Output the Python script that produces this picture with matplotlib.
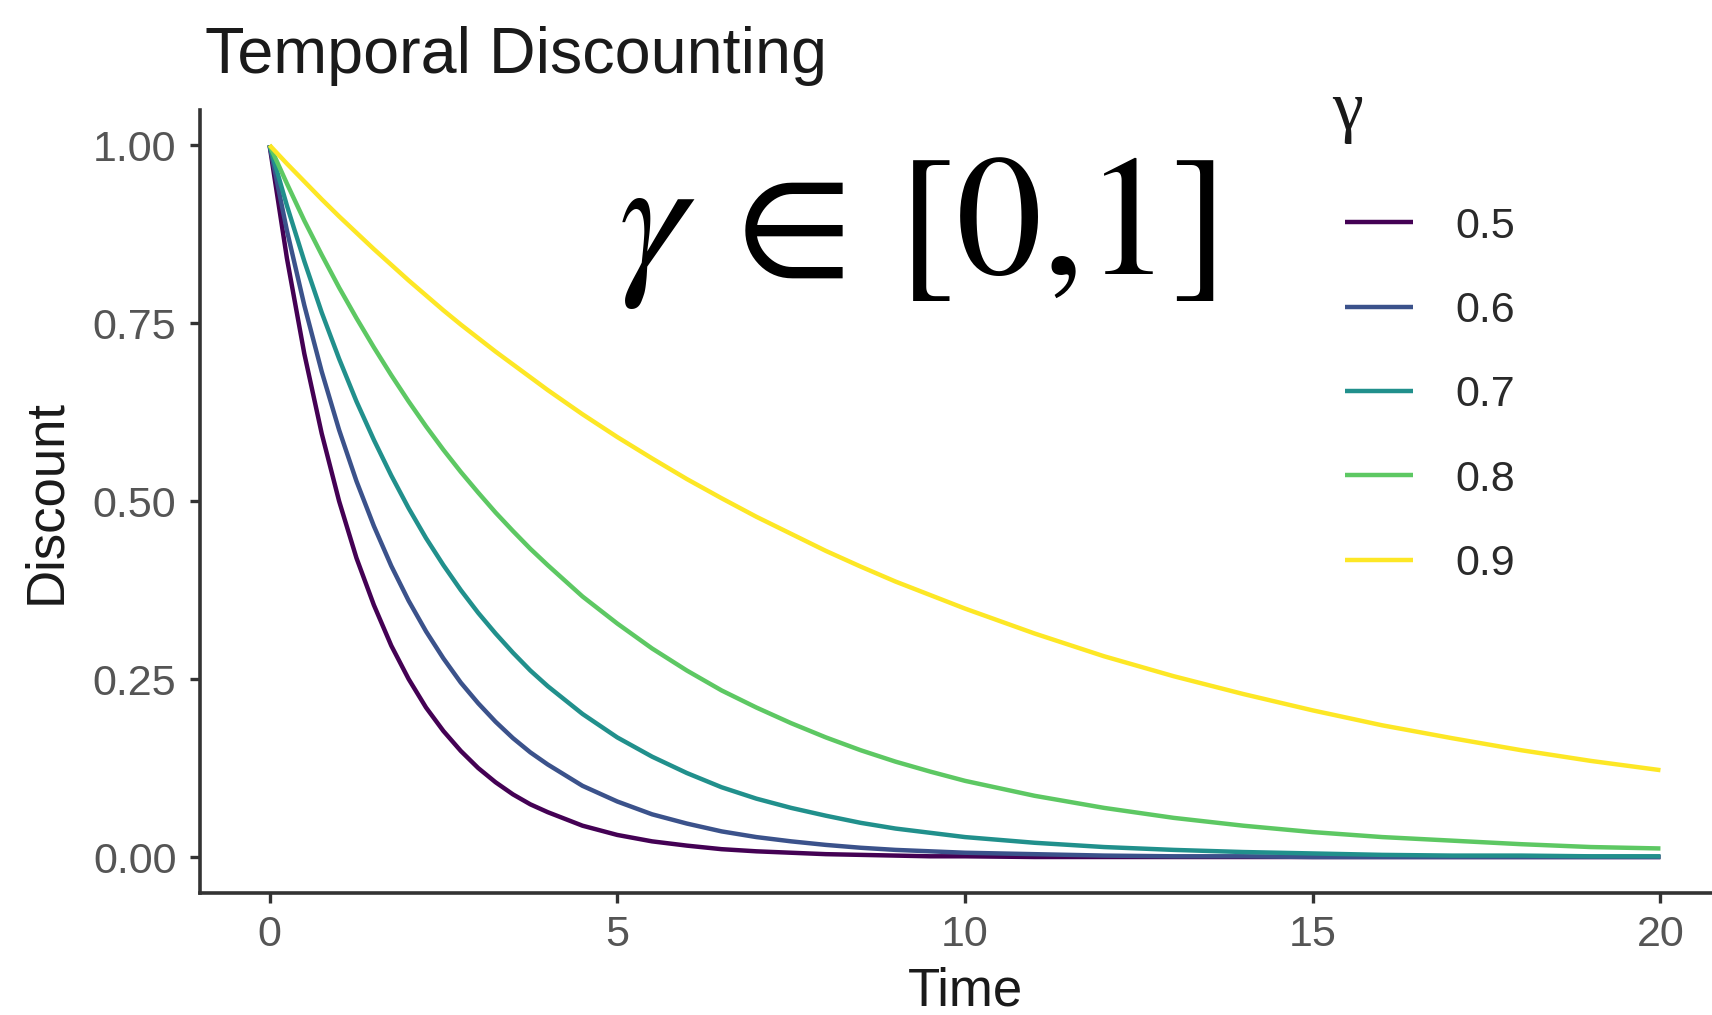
import matplotlib
matplotlib.use("Agg")
import matplotlib.pyplot as plt

# Discount factor gamma**t tabulated over time for each gamma
time = [0, 0.25, 0.5, 0.75, 1, 1.25, 1.5, 1.75, 2, 2.25, 2.5, 2.75, 3, 3.25, 3.5, 3.75, 4,
        4.5, 5, 5.5, 6, 6.5, 7, 7.5, 8, 8.5, 9, 9.5, 10,
        11, 12, 13, 14, 15, 16, 17, 18, 19, 20]

gamma_labels = ["0.5", "0.6", "0.7", "0.8", "0.9"]

discount_05 = [1.000, 0.841, 0.707, 0.595, 0.500, 0.420, 0.354, 0.297, 0.250,
               0.210, 0.177, 0.149, 0.125, 0.105, 0.088, 0.074, 0.063,
               0.044, 0.031, 0.022, 0.016, 0.011, 0.008, 0.006, 0.004,
               0.003, 0.002, 0.001, 0.001,
               0.000, 0.000, 0.000, 0.000, 0.000, 0.000, 0.000, 0.000, 0.000, 0.000]
discount_06 = [1.000, 0.880, 0.775, 0.682, 0.600, 0.528, 0.465, 0.409, 0.360,
               0.317, 0.279, 0.245, 0.216, 0.190, 0.167, 0.147, 0.130,
               0.100, 0.078, 0.060, 0.047, 0.036, 0.028, 0.022, 0.017,
               0.013, 0.010, 0.008, 0.006,
               0.004, 0.002, 0.001, 0.001, 0.000, 0.000, 0.000, 0.000, 0.000, 0.000]
discount_07 = [1.000, 0.915, 0.837, 0.765, 0.700, 0.640, 0.586, 0.536, 0.490,
               0.448, 0.410, 0.375, 0.343, 0.314, 0.287, 0.262, 0.240,
               0.201, 0.168, 0.141, 0.118, 0.098, 0.082, 0.069, 0.058,
               0.048, 0.040, 0.034, 0.028,
               0.020, 0.014, 0.010, 0.007, 0.005, 0.003, 0.002, 0.002, 0.001, 0.001]
discount_08 = [1.000, 0.946, 0.894, 0.846, 0.800, 0.757, 0.716, 0.677, 0.640,
               0.605, 0.572, 0.541, 0.512, 0.484, 0.458, 0.433, 0.410,
               0.366, 0.328, 0.293, 0.262, 0.234, 0.210, 0.188, 0.168,
               0.150, 0.134, 0.120, 0.107,
               0.086, 0.069, 0.055, 0.044, 0.035, 0.028, 0.023, 0.018, 0.014, 0.012]
discount_09 = [1.000, 0.974, 0.949, 0.924, 0.900, 0.877, 0.854, 0.832, 0.810,
               0.789, 0.768, 0.748, 0.729, 0.710, 0.692, 0.674, 0.656,
               0.622, 0.590, 0.560, 0.531, 0.504, 0.478, 0.454, 0.430,
               0.408, 0.387, 0.368, 0.349,
               0.314, 0.282, 0.254, 0.229, 0.206, 0.185, 0.167, 0.150, 0.135, 0.122]

series = [discount_05, discount_06, discount_07, discount_08, discount_09]
colors = ["#440154", "#3B528B", "#21908C", "#5DC863", "#FDE725"]

x_ticks = [0, 5, 10, 15, 20]
y_ticks = [0.00, 0.25, 0.50, 0.75, 1.00]
y_tick_labels = ["0.00", "0.25", "0.50", "0.75", "1.00"]

plt.rcParams["font.family"] = ["Liberation Sans", "DejaVu Sans"]
plt.rcParams["mathtext.fontset"] = "stix"

W, H = 1712, 1015
fig = plt.figure(figsize=(W / 100, H / 100), dpi=100)
fig.patch.set_facecolor("white")

# panel in pixels: left 200, right 1730, top 109.6, bottom 892.6
ax = fig.add_axes([200 / W, 1 - 892.6 / H, 1530 / W, 783 / H])
ax.set_facecolor("white")

handles = []
for vals, col, lab in zip(series, colors, gamma_labels):
    (ln,) = ax.plot(time, vals, color=col, lw=3.2, solid_joinstyle="round",
                    solid_capstyle="butt", label=lab)
    handles.append(ln)

ax.set_xlim(-1, 21)
ax.set_ylim(-0.05, 1.05)
ax.set_xticks(x_ticks)
ax.set_xticklabels([str(t) for t in x_ticks])
ax.set_yticks(y_ticks)
ax.set_yticklabels(y_tick_labels)

for side in ["top", "right"]:
    ax.spines[side].set_visible(False)
for side in ["left", "bottom"]:
    ax.spines[side].set_color("#333333")
    ax.spines[side].set_linewidth(2.6)

ax.tick_params(axis="both", colors="#333333", width=2.4, length=7,
               labelsize=31, labelcolor="#555555")
ax.tick_params(axis="x", pad=9)
ax.tick_params(axis="y", pad=10)

ax.set_xlabel("Time", fontsize=38, color="#1a1a1a")
ax.set_ylabel("Discount", fontsize=38, color="#1a1a1a")
ax.xaxis.set_label_coords(0.5, -0.095)
ax.yaxis.set_label_coords(-0.084, 0.5)

fig.text(205 / W, 1 - 73 / H, "Temporal Discounting", fontsize=46.5,
         color="#1a1a1a", ha="left", va="baseline")

fig.text(618 / W, 1 - 274 / H, r"$\gamma\,\in\,[0{,}1]$", fontsize=124,
         color="black", ha="left", va="baseline")

# legend: heading set a little apart from the key rows
fig.text(1332 / W, 1 - 129 / H, "γ", family="Liberation Serif", fontsize=50,
         color="#1a1a1a", ha="left", va="baseline")
leg = fig.legend(handles=handles, labels=gamma_labels, loc="upper left",
                 bbox_to_anchor=(1345 / W, 1 - 206.5 / H), frameon=False,
                 fontsize=31, handlelength=1.58, handletextpad=0.98,
                 labelspacing=1.03, borderpad=0, borderaxespad=0)
for t in leg.get_texts():
    t.set_color("#2a2a2a")

fig.savefig("out.png", dpi=100, facecolor="white")
